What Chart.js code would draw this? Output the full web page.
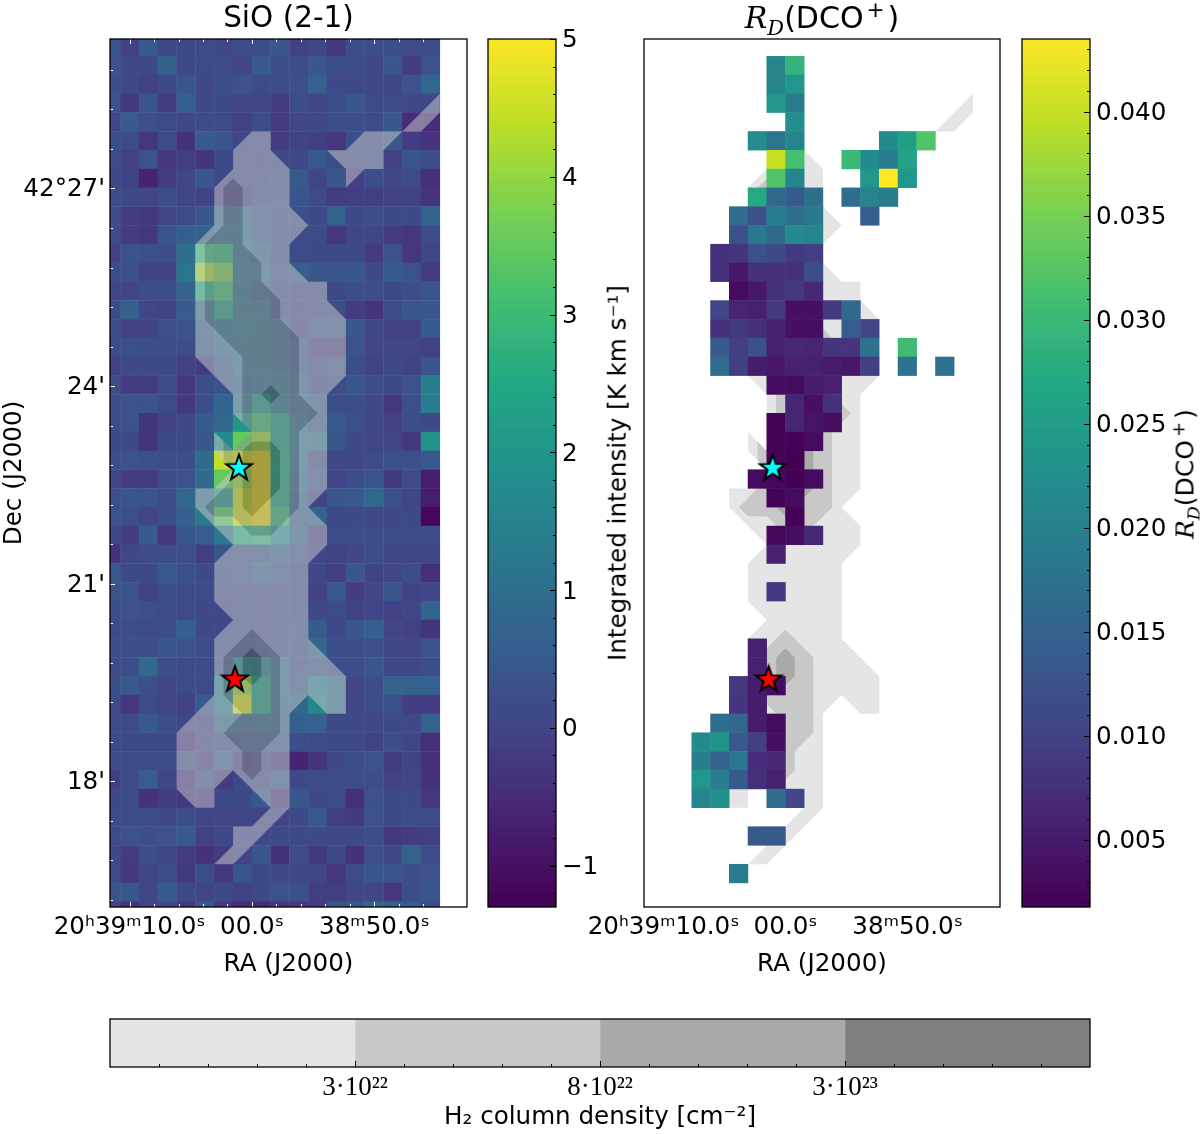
<!DOCTYPE html>
<html>
<head>
<meta charset="utf-8">
<title>SiO (2-1) and RD(DCO+)</title>
<script src="https://cdn.jsdelivr.net/npm/chart.js@4/dist/chart.umd.js"></script>
<style>
    html, body { margin: 0; padding: 0; background: #fff; }
    #page { position: relative; width: 1200px; height: 1134px; overflow: hidden; }
    canvas { position: absolute; }
    .lab {
        position: absolute; white-space: nowrap; color: #000; line-height: 1;
        font-family: "DejaVu Sans", sans-serif; transform: translate(-50%, -50%);
    }
    .lab.up { transform: translate(-50%, -50%) rotate(-90deg); }
    .lab i { font-family: "DejaVu Serif", serif; }
    .lab sub { font-size: 70%; line-height: 0; }
    .lab sup { font-size: 72%; line-height: 0; margin: 0 3px; }
</style>
</head>
<body>
<div id="page">
    <canvas id="cLeft" width="487" height="990" style="left:0;top:0"></canvas>
    <canvas id="cbLeft" width="150" height="990" style="left:480px;top:0"></canvas>
    <canvas id="cRight" width="480" height="990" style="left:540px;top:0"></canvas>
    <canvas id="cbRight" width="185" height="990" style="left:1015px;top:0"></canvas>
    <canvas id="cbBottom" width="1200" height="134" style="left:0;top:1000px"></canvas>
    <div class="lab" style="left:822px;top:18px;font-size:30px"><i>R<sub>D</sub></i>(DCO<sup>+</sup>)</div>
    <div class="lab up" style="left:618px;top:473px;font-size:24.6px">Integrated intensity [K km s⁻¹]</div>
    <div class="lab up" style="left:1185px;top:474px;font-size:25px"><i>R<sub>D</sub></i>(DCO<sup>+</sup>)</div>
</div>
<script>
// SiO integrated intensity, rows top to bottom, columns left to right
const sioValues = [
    [.4,-.1,.5,.1,.1,.15,0,.2,.2,.4,-.1,0,-.3,.2,.2,.2,.15,.2],
    [.3,.1,.1,.6,.05,.15,.15,0,.5,.2,.2,.4,.2,.2,.05,.4,-.2,.3],
    [.2,.1,-.1,.05,.35,.05,.2,.3,.15,.15,.25,.65,.05,.05,.05,0,.3,.8],
    [.3,-.25,.35,-.2,.6,.1,.1,0,0,-.2,.2,0,.2,.4,.15,.15,.05,.05],
    [0,.5,.25,.15,.05,.15,.15,-.1,.2,-.2,0,.1,.2,.2,.15,.4,-.5,-.5],
    [.2,.15,-.3,.15,-.4,.5,.35,0,.1,-.2,-.05,-.15,-.3,.2,.2,.4,-.2,-.35],
    [.2,-.1,.3,-.3,-.15,-.35,.1,.15,0,.05,.05,.45,.2,.1,.1,-.1,.35,.2],
    [.1,-.05,-.7,-.2,0,.4,.05,.1,.1,.2,.45,0,.4,-.1,.2,0,.15,-.45],
    [.15,.1,0,.2,0,-.05,-.1,-.1,.2,.2,.35,.15,-.2,-.15,-.15,-.1,-.05,-.35],
    [.2,-.2,-.25,0,.15,.4,.8,.9,.4,.2,.25,.1,.7,.1,.2,.1,.1,.7],
    [.2,-.2,-.3,.35,.6,.65,1,1,.5,.15,.15,.15,-.3,0,0,-.2,-.3,.15],
    [-.1,.3,.25,.2,1,2.9,2.7,1,.8,.2,.15,.1,.1,.1,-.2,.3,-.3,0],
    [.2,.25,-.05,-.1,1.15,4.1,3.7,1.1,1,.3,.6,.4,.4,.4,.1,.5,.3,-.2],
    [0,0,.2,.2,.7,2.5,3,1,.6,.2,.1,.1,.1,.2,.2,.1,.2,.35],
    [.15,.6,0,-.05,.5,.9,2.2,1,1,.2,0,.1,.2,-.2,-.35,.15,.4,.4],
    [.2,-.1,-.05,.25,.35,.7,1,1.1,1,.7,0,.3,.4,.4,.05,-.1,-.1,.5],
    [.2,.25,.2,.2,.2,.5,.8,1,1,.7,.3,-.1,-.2,.3,0,0,0,-.1],
    [-.1,.1,.1,.1,-.1,-.2,.5,1,1,.8,.4,.1,.3,.2,-.05,.1,-.05,.35],
    [.2,-.2,-.2,.15,-.3,.2,.3,.8,.95,1,.6,0,.2,.4,.2,.1,.3,1.4],
    [.2,.3,.3,.15,-.25,.2,.75,1,2.2,1.2,.7,.6,.2,.2,.05,-.3,.25,1.3],
    [.2,.3,-.35,-.1,.05,.5,.8,2,3,2.2,1,.5,.45,.25,.05,-.1,.2,.1],
    [.1,.1,-.35,.1,.1,.4,1.7,3.5,4,2.3,1.1,1,.4,.1,0,0,-.25,1.9],
    [.2,.3,.25,.2,.2,.9,4.4,4.7,5,2.5,1,.1,.1,.05,.15,.25,.25,.45],
    [0,-.2,-.2,.2,.3,.9,3.5,4,5,2.5,.9,.4,0,.2,.3,-.25,.15,-.8],
    [.25,.35,.35,.2,.8,1,2,4.5,5,2.4,.7,0,.4,.45,.8,.25,0,-.8],
    [.3,.25,0,.2,.6,1.2,3.3,4.6,5,2.9,.6,.7,.05,.1,.05,.05,.1,-1.2],
    [.05,-.2,.5,-.3,.4,.55,1.2,2.6,2.7,1.8,.7,-.1,.2,.2,.2,.2,.15,.15],
    [-.4,.05,.15,.2,.25,-.15,.35,.3,.4,.6,.3,0,-.1,0,.2,0,0,0],
    [.45,.1,.1,.45,.25,.1,.2,.35,.7,.4,.1,0,-.15,.4,-.05,0,.2,-.45],
    [.3,.3,-.1,.2,.15,.15,.1,.1,.1,.1,.15,-.1,.45,-.2,0,.4,-.05,0],
    [.2,.3,.25,.15,.15,.05,.05,.1,.1,.1,.1,.1,.15,-.05,0,-.1,0,.75],
    [.15,.2,.15,.2,.6,.1,.1,.1,.1,.1,.2,.5,.05,.4,.6,0,-.1,-.35],
    [.2,.2,.2,.35,.3,.2,.2,.2,.3,.2,.2,.8,.2,.2,.25,.05,0,.3],
    [.15,.2,.85,.2,.15,.15,.3,1.8,1.6,.9,.2,.3,.2,.2,.4,.05,.05,.2],
    [.2,.45,.25,0,.15,.15,1.3,4,2.3,.9,.4,1.3,1,0,.2,.7,.7,.65],
    [.15,-.3,.15,0,-.1,.5,1.3,4.6,2.3,.8,.8,1.6,1,0,.2,.25,-.2,-.2],
    [.15,.15,.45,.2,0,0,.9,.7,.8,.7,.6,.65,.1,.1,.1,.1,.1,.7],
    [.1,.1,.1,.1,-.4,.05,.2,.3,.4,.4,.2,.15,.1,.1,-.05,.2,0,-.45],
    [.2,.15,.15,.2,.2,-.1,.6,-.2,0,-.3,-.7,-.35,.1,.2,.3,-.2,-.05,-.45],
    [-.15,.15,.55,0,-.4,.2,-.2,.1,.1,.4,.1,.15,.15,.2,.2,-.1,0,-.4],
    [.1,.15,-.4,-.2,-.25,-.3,.1,.1,.45,-.4,.35,.1,.15,-.45,.3,.1,.1,-.3],
    [.15,.15,.15,.05,.2,0,0,0,0,0,.1,.45,-.15,-.25,.3,.1,.2,.15],
    [.15,.3,.2,.3,.45,-.1,.05,0,.05,.1,.1,.1,.05,.1,.2,-.25,-.2,-.15],
    [.1,-.2,.2,.05,-.2,-.4,-.2,0,.35,-.4,.15,-.25,.1,-.4,.25,.05,.7,.15],
    [.15,-.25,0,.2,-.25,.2,-.25,.35,.1,.05,.05,0,-.3,.15,.35,.35,.2,.3],
    [.4,.4,0,.5,.1,0,.1,-.05,.1,.3,.25,-.15,-.15,0,0,-.3,.2,.35],
    [0,-.35,0,0,-.25,.4,-.2,-.5,-.5,-.3,-.3,-.2,.4,.4,.8,.6,.5,.15]
];

// RD(DCO+) cells: row, first column, run of values (same grid as sioValues)
const rdCells = [
    [1,7,[.0205,.029]],
    [2,7,[.0205,.0235]],
    [3,7,[.0235,.019]],
    [4,8,[.022]],
    [5,6,[.022,.018,.0205]], [5,13,[.0215,.025,.032]],
    [6,7,[.04,.031]], [6,11,[.03,.0215,.019,.026]],
    [7,7,[.032,.0205]], [7,12,[.0235,.0435,.0235]],
    [8,6,[.027,.016,.0135,.017]], [8,11,[.0165,.0205,.019]],
    [9,5,[.0165,.012,.0195,.017,.0185]], [9,12,[.014]],
    [10,5,[.012,.0185,.016,.0215,.0205]],
    [11,4,[.0075,.008,.012,.011,.0085,.0095]],
    [12,4,[.0075,.0045,.0075,.0075,.0075,.0115]],
    [13,5,[.003,.0045,.0075,.0085,.0065]],
    [14,4,[.0105,.006,.0055,.0085,.0035,.0035,.0085,.016]],
    [15,4,[.0075,.0085,.0075,.0055,.0035,.0035]], [15,11,[.014,.0105]],
    [16,4,[.0135,.0095,.012,.0055,.0065,.006,.008,.008,.0175]], [16,14,[.0305]],
    [17,4,[.0165,.0095,.005,.0045,.0055,.0055,.005,.0045,.0095]], [17,14,[.0175]], [17,16,[.0175]],
    [18,7,[.003,.003,.005,.0055]],
    [19,8,[.006,.0035,.0075]],
    [20,7,[.002,.006,.004,.0035]],
    [21,7,[.002,.002,.003]],
    [22,7,[.002,.0018]],
    [23,6,[.003,.0025,.0018,.003]],
    [24,7,[.002,.003]],
    [25,8,[.002]],
    [26,7,[.0025,.0035,.0065]],
    [27,7,[.0055]],
    [29,7,[.0085]],
    [32,6,[.0055]],
    [33,6,[.0055]],
    [34,5,[.0085,.005,.003]],
    [35,5,[.008,.005]],
    [36,4,[.017,.0155,.005,.003]],
    [37,3,[.0215,.023,.0135,.0095,.0035]],
    [38,3,[.0195,.015,.018,.007,.0065]],
    [39,3,[.0235,.019,.0135,.0075,.0055]],
    [40,3,[.0205,.0225]], [40,7,[.0165,.0105]],
    [42,6,[.0135,.0135]],
    [44,5,[.019]]
];

// H2 contours, vertices in grid units (u across from first full column, v down from first full row)
const level1Main = [[7,4],[8,4],[8,5],[9,6],[9,8],[10,9],[9,10],[9,11],[10,12],[11,12],[11,13],[12,14],[12,17],[11,18],[11,23],[10,24],[11,25],[11,26],[10,27],[10,31],[12,33],[12,35],[11,35],[10,34],[9,35],[9,40],[7,42],[6,43],[5,43],[6,42],[6,41],[7,41],[8,40],[6,38],[5,39],[5,40],[4,40],[3,39],[3,36],[5,34],[5,31],[6,30],[5,29],[5,27],[6,26],[4,24],[4,23],[5,23],[6,22],[5,21],[5,20],[6,21],[7,20],[6,19],[6,18],[4,16],[4,10],[5,9],[5,7],[6,6],[6,5]];
const level1Arm = [[11,5],[12,5],[13,4],[15,4],[17,2],[17,3],[16,4],[15,4],[14,5],[14,6],[13,6],[12,7],[12,6]];
const level2Upper = [[6,6.5],[6.5,7],[6.5,10],[7.5,11],[7.5,12],[8.5,13],[8.5,14],[9.5,15],[9.5,18],[10.5,19],[9.5,20],[9.5,24],[8,25.5],[7,25.5],[6,24.5],[5,24.5],[4.5,24],[5.5,23],[6,22.5],[6,22],[5.5,21.5],[5.5,20.5],[6,21],[7,20],[6.5,19.5],[6.5,16],[4.5,14],[4.5,10],[5.5,9],[5.5,7]];
const level2Lower = [[7,30.5],[8.5,32],[8.5,36],[7.5,37],[7.5,38],[7,38.5],[6.5,38],[6.5,37],[5.5,36],[6.5,35],[5.5,34],[5.5,32]];
const level3Star = [[7,20.5],[8,20.5],[8.5,21],[8.5,23],[7,24.5],[6.5,24],[6.5,21]];
const level3Dot = [[8,17.5],[8.5,18],[8,18.5],[7.5,18]];
const level3Lower = [[7,31.5],[7.5,32],[7.5,33],[7,33.5],[6.5,33],[6.5,32]];

// Protostars (RA seconds from 20h39m00s, Dec minutes above 42 deg)
const cyanStar = {x: 1.06, y: 22.76};
const redStar = {x: 1.39, y: 19.55};

const raTicks = [10, 0, -10];
const raLabels = ["20ʰ39ᵐ10.0ˢ", "00.0ˢ", "38ᵐ50.0ˢ"];
const raMinor = [8, 6, 4, 2, -2, -4, -6, -8, -12, -14, -16];
const decTicks = [27, 24, 21, 18];
const decLabels = ["42°27'", "24'", "21'", "18'"];
const decMinor = [28.8, 28.2, 27.6, 26.4, 25.8, 25.2, 24.6, 23.4, 22.8, 22.2, 21.6, 20.4, 19.8, 19.2, 18.6, 17.4, 16.8, 16.2];

const sioBarTicks = [-1, 0, 1, 2, 3, 4, 5];
const rdBarTicks = [0.005, 0.010, 0.015, 0.020, 0.025, 0.030, 0.035, 0.040];
const densityLabels = ["3·10²²", "8·10²²", "3·10²³"];
const densityTicks = [1, 2, 3];
const densityColors = ["#e5e5e5", "#c8c8c8", "#a9a9a9", "#808080"];

const viridis = ["#440154", "#482475", "#414487", "#355f8d", "#2a788e", "#21918c", "#22a884", "#44bf70", "#7ad151", "#bddf26", "#fde725"];

const SIO_MIN = -1.3, SIO_MAX = 5;
const RD_MIN = 0.00178, RD_MAX = 0.0435;

// grid units -> sky coordinates
const raAtU0 = 10.76, raStep = 1.536;
const decAtV0 = 29.008, decStep = 0.2853;
const toSky = ([u, v]) => ({x: raAtU0 - raStep * u, y: decAtV0 - decStep * v});

function hexRgb(h) {
    return [1, 3, 5].map(i => parseInt(h.slice(i, i + 2), 16));
}

function viridisAt(t) {
    t = Math.min(1, Math.max(0, t)) * (viridis.length - 1);
    const i = Math.min(viridis.length - 2, Math.floor(t));
    const a = hexRgb(viridis[i]), b = hexRgb(viridis[i + 1]);
    const c = a.map((v, k) => Math.round(v + (b[k] - v) * (t - i)));
    return `rgb(${c[0]},${c[1]},${c[2]})`;
}

// Ring with holes as one path: holes run the other way round so they stay unfilled
function withHoles(outer, holes) {
    let path = outer.concat([outer[0]]);
    holes.forEach(h => {
        const back = h.slice().reverse();
        path = path.concat(back, [back[0], outer[0]]);
    });
    return path.map(toSky);
}

function contourDatasets() {
    const band = (path, color) => ({
        data: path, showLine: true, fill: "shape", backgroundColor: color,
        borderColor: "transparent", borderWidth: 0, pointRadius: 0, clip: 0
    });
    return [
        band(withHoles(level1Main, [level2Upper, level2Lower]), "rgba(203,203,203,0.5)"),
        band(withHoles(level1Arm, []), "rgba(203,203,203,0.5)"),
        band(withHoles(level2Upper, [level3Star, level3Dot]), "rgba(145,145,145,0.5)"),
        band(withHoles(level2Lower, [level3Lower]), "rgba(145,145,145,0.5)"),
        band(withHoles(level3Star, []), "rgba(83,83,83,0.5)"),
        band(withHoles(level3Dot, []), "rgba(83,83,83,0.5)"),
        band(withHoles(level3Lower, []), "rgba(83,83,83,0.5)")
    ];
}

function cellDataset(points, colors) {
    return {
        data: points, pointStyle: "rect", pointRadius: 13.6, pointBorderWidth: 0,
        pointBackgroundColor: colors, clip: 0
    };
}

function sioDataset() {
    const points = [], colors = [];
    sioValues.forEach((row, r) => row.forEach((val, c) => {
        points.push(toSky([c - 0.5, r - 0.5]));
        colors.push(viridisAt((val - SIO_MIN) / (SIO_MAX - SIO_MIN)));
    }));
    return cellDataset(points, colors);
}

function rdDataset() {
    const points = [], colors = [];
    rdCells.forEach(([r, first, vals]) => vals.forEach((val, k) => {
        points.push(toSky([first + k - 0.5, r - 0.5]));
        colors.push(viridisAt((val - RD_MIN) / (RD_MAX - RD_MIN)));
    }));
    return cellDataset(points, colors);
}

function starImage(color) {
    const cv = document.createElement("canvas");
    cv.width = cv.height = 32;
    const g = cv.getContext("2d");
    g.beginPath();
    for (let i = 0; i < 10; i++) {
        const r = i % 2 ? 5.4 : 13.5;
        const a = -Math.PI / 2 + i * Math.PI / 5;
        g.lineTo(16 + r * Math.cos(a), 16.5 + r * Math.sin(a));
    }
    g.closePath();
    g.fillStyle = color;
    g.fill();
    g.lineWidth = 2;
    g.strokeStyle = "#000";
    g.stroke();
    return cv;
}

function starDatasets() {
    return [
        {data: [cyanStar], pointStyle: starImage("#00ffff"), pointRadius: 16, clip: false},
        {data: [redStar], pointStyle: starImage("#ff0000"), pointRadius: 16, clip: false}
    ];
}

// Ticks that point into the plot, matplotlib direction "in"
function innerTicks(spec) {
    return {
        id: "innerTicks",
        afterDatasetsDraw(chart) {
            const {ctx, chartArea: a, scales} = chart;
            ctx.save();
            ctx.strokeStyle = spec.color;
            ctx.lineWidth = 1;
            (spec.x || []).forEach(([values, len]) => values.forEach(v => {
                const px = Math.round(scales.x.getPixelForValue(v)) + 0.5;
                ctx.beginPath();
                ctx.moveTo(px, a.bottom); ctx.lineTo(px, a.bottom - len);
                if (spec.top) { ctx.moveTo(px, a.top); ctx.lineTo(px, a.top + len); }
                ctx.stroke();
            }));
            (spec.y || []).forEach(([values, len]) => values.forEach(v => {
                const py = Math.round(scales.y.getPixelForValue(v)) + 0.5;
                ctx.beginPath();
                if (spec.yRight) {
                    ctx.moveTo(a.right, py); ctx.lineTo(a.right - len, py);
                } else {
                    ctx.moveTo(a.left, py); ctx.lineTo(a.left + len, py);
                }
                ctx.stroke();
            }));
            ctx.restore();
        }
    };
}

const frame = {
    id: "frame",
    afterDraw(chart) {
        const {ctx, chartArea: a} = chart;
        ctx.save();
        ctx.strokeStyle = "#000";
        ctx.lineWidth = 1.3;
        ctx.strokeRect(a.left, a.top, a.right - a.left, a.bottom - a.top);
        ctx.restore();
    }
};

Chart.defaults.font.family = '"DejaVu Sans", sans-serif';
Chart.defaults.font.size = 24.6;
Chart.defaults.color = "#000";
Chart.defaults.animation = false;

const noExtras = {legend: {display: false}, tooltip: {enabled: false}};
const noGrid = {display: false, drawTicks: false};

function setTicks(list) {
    return s => { s.ticks = list.map(v => ({value: v})); };
}

function raAxis() {
    return {
        type: "linear", min: -17.57, max: 11.6, reverse: true,
        grid: noGrid, border: {display: false},
        afterBuildTicks: setTicks(raTicks),
        afterFit: s => { s.height = 83; },
        ticks: {
            autoSkip: false, maxRotation: 0, minRotation: 0, padding: 6,
            callback: v => raLabels[raTicks.indexOf(v)]
        },
        title: {display: true, text: "RA (J2000)", padding: {top: 0, bottom: 11}}
    };
}

function skyTicks() {
    return innerTicks({
        color: "#fff", top: true,
        x: [[raTicks, 5], [raMinor, 3]],
        y: [[decTicks, 5], [decMinor, 3]]
    });
}

new Chart(document.getElementById("cLeft"), {
    type: "scatter",
    data: {datasets: [...starDatasets(), ...contourDatasets(), sioDataset()]},
    options: {
        responsive: false, events: [],
        layout: {padding: {right: 20}},
        plugins: {
            ...noExtras,
            title: {
                display: true, text: "SiO (2-1)", fullSize: false,
                font: {size: 29.5, weight: "normal"}, padding: {top: 1.5, bottom: 2.1}
            }
        },
        scales: {
            x: raAxis(),
            y: {
                type: "linear", min: 16.09, max: 29.27,
                grid: noGrid, border: {display: false},
                afterBuildTicks: setTicks(decTicks),
                afterFit: s => { s.width = 110; },
                ticks: {autoSkip: false, padding: 5, labelOffset: 1.5, callback: v => decLabels[decTicks.indexOf(v)]},
                title: {display: true, text: "Dec (J2000)", padding: 0}
            }
        }
    },
    plugins: [skyTicks(), frame]
});

new Chart(document.getElementById("cRight"), {
    type: "scatter",
    data: {datasets: [...starDatasets(), rdDataset(), ...contourDatasets()]},
    options: {
        responsive: false, events: [],
        layout: {padding: {left: 104, right: 20, top: 39}},
        plugins: noExtras,
        scales: {
            x: raAxis(),
            y: {type: "linear", display: false, min: 16.09, max: 29.27}
        }
    },
    plugins: [skyTicks(), frame]
});

function colorbar(id, lo, hi, ticks, label, minorStep, width, left) {
    const n = 128, step = (hi - lo) / n, datasets = [];
    for (let i = 0; i < n; i++) {
        datasets.push({
            data: [[lo + i * step, lo + (i + 1.4) * step]],
            backgroundColor: viridisAt((i + 0.5) / n),
            barPercentage: 1, categoryPercentage: 1, grouped: false
        });
    }
    const minor = [];
    for (let v = ticks[0] - minorStep * 5; v < hi; v += minorStep) {
        const k = Math.round((v - ticks[0]) / minorStep);
        if (v > lo && k % 5 !== 0) minor.push(v);
    }
    new Chart(document.getElementById(id), {
        type: "bar",
        data: {labels: [""], datasets},
        options: {
            responsive: false, events: [],
            layout: {padding: {left, top: 39, bottom: 83}},
            plugins: noExtras,
            scales: {
                x: {display: false},
                y: {
                    type: "linear", position: "right", min: lo, max: hi,
                    grid: noGrid, border: {display: false},
                    afterBuildTicks: setTicks(ticks),
                    afterFit: s => { s.width = width; },
                    ticks: {autoSkip: false, padding: 6, labelOffset: 2, callback: label}
                }
            }
        },
        plugins: [innerTicks({color: "#000", yRight: true, y: [[ticks, 6], [minor, 3]]}), frame]
    });
}

colorbar("cbLeft", SIO_MIN, SIO_MAX, sioBarTicks, v => String(v).replace("-", "−"), 0.2, 74, 8);
colorbar("cbRight", RD_MIN, RD_MAX, rdBarTicks, v => v.toFixed(3), 0.001, 110, 7);

const densityMinor = [];
for (let v = 0.2; v < 4; v += 0.2) {
    if (Math.abs(v - Math.round(v)) > 0.01) densityMinor.push(v);
}

new Chart(document.getElementById("cbBottom"), {
    type: "bar",
    data: {
        labels: [""],
        datasets: densityColors.map((color, i) => ({
            data: [[i, i + 1]], backgroundColor: color,
            barPercentage: 1, categoryPercentage: 1, grouped: false
        }))
    },
    options: {
        indexAxis: "y", responsive: false, events: [],
        layout: {padding: {left: 110, right: 110, top: 19}},
        plugins: noExtras,
        scales: {
            y: {display: false},
            x: {
                type: "linear", min: 0, max: 4,
                grid: noGrid, border: {display: false},
                afterBuildTicks: setTicks(densityTicks),
                afterFit: s => { s.height = 67; },
                ticks: {
                    autoSkip: false, maxRotation: 0, padding: 5,
                    font: {family: '"Liberation Serif", serif', size: 27},
                    callback: v => densityLabels[densityTicks.indexOf(v)]
                },
                title: {display: true, text: "H₂ column density [cm⁻²]", padding: {top: 0, bottom: 1.5}}
            }
        }
    },
    plugins: [innerTicks({color: "#000", x: [[densityTicks, 6], [densityMinor, 3]]}), frame]
});
</script>
</body>
</html>
